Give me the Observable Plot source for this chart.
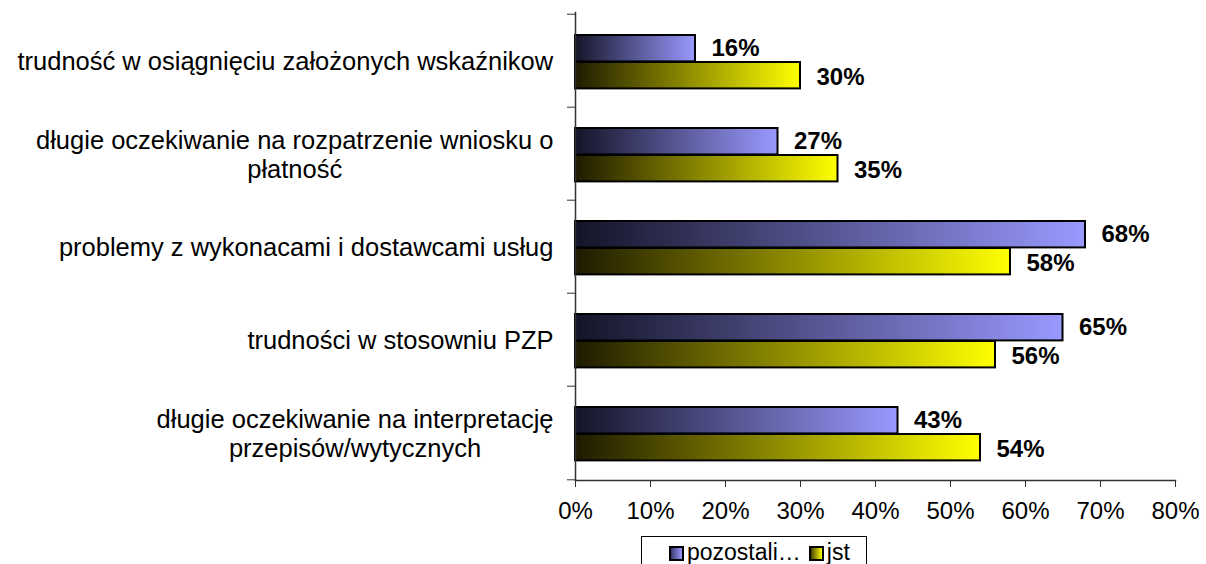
<!DOCTYPE html>
<html>
<head>
<meta charset="utf-8">
<script src="https://cdn.jsdelivr.net/npm/d3@7"></script>
<script src="https://cdn.jsdelivr.net/npm/@observablehq/plot@0.6"></script>
<style>
  html, body { margin: 0; padding: 0; background: #fff; }
  #wrap { position: relative; width: 1206px; height: 564px; overflow: hidden; font-family: "Liberation Sans", Arial, sans-serif; }
  #legend { position: absolute; left: 641px; top: 536px; width: 226px; height: 40px; border: 1px solid #000; box-sizing: border-box;
            display: flex; align-items: flex-start; padding-top: 3px; padding-left: 27px; font-size: 23px; line-height: 24px; color: #000; background: #fff; }
  .sw { display: inline-block; width: 11px; height: 11px; border: 2px solid #000; margin-right: 3px; margin-top: 6px; }
  .item { display: flex; align-items: flex-start; margin-right: 8px; }
</style>
</head>
<body>
<div id="wrap"><div id="chart"></div><div id="legend"></div></div>
<script>
const categories = [
  "trudność w osiągnięciu założonych wskaźnikow",
  "długie oczekiwanie na rozpatrzenie wniosku o\npłatność",
  "problemy z wykonacami i dostawcami usług",
  "trudności w stosowniu PZP",
  "długie oczekiwanie na interpretację\nprzepisów/wytycznych"
];
const seriesNames = ["pozostali…", "jst"];
const pozostali = [16, 27, 68, 65, 43];
const jst = [30, 35, 58, 56, 54];
const xTicks = [0, 10, 20, 30, 40, 50, 60, 70, 80];

const pozData = categories.map((c, i) => ({category: c, series: seriesNames[0], value: pozostali[i]}));
const jstData = categories.map((c, i) => ({category: c, series: seriesNames[1], value: jst[i]}));

const W = 1206, H = 536, mTop = 12, mBottom = 56, mLeft = 575, mRight = 31;
const band = (H - mTop - mBottom) / categories.length;
const barH = 27, groupTop = 21;

const font = '"Liberation Sans", Arial, Helvetica, sans-serif';

const chart = Plot.plot({
  width: W, height: H,
  marginTop: mTop, marginBottom: mBottom, marginLeft: mLeft, marginRight: mRight,
  style: {fontFamily: font, fontSize: "22px", color: "#000", background: "#fff", overflow: "visible"},
  x: {domain: [0, 80], label: null},
  y: {domain: categories, padding: 0, label: null},
  marks: [
    Plot.barX(pozData, {y: "category", x: "value", fill: "url(#gPoz)", stroke: "#000", strokeWidth: 2,
      insetTop: groupTop, insetBottom: band - groupTop - barH}),
    Plot.barX(jstData, {y: "category", x: "value", fill: "url(#gJst)", stroke: "#000", strokeWidth: 2,
      insetTop: groupTop + barH, insetBottom: band - groupTop - 2 * barH}),
    Plot.text(pozData, {y: "category", x: "value", text: d => d.value + "%", dx: 16, textAnchor: "start",
      dy: -band / 2 + groupTop + barH / 2, fontWeight: "bold", fontSize: 24}),
    Plot.text(jstData, {y: "category", x: "value", text: d => d.value + "%", dx: 16, textAnchor: "start",
      dy: -band / 2 + groupTop + barH * 1.5 + 2, fontWeight: "bold", fontSize: 24}),
    Plot.frame({anchor: "left", stroke: "#333", strokeWidth: 1.5}),
    Plot.frame({anchor: "bottom", stroke: "#333", strokeWidth: 1.5}),
    Plot.axisX({ticks: xTicks, tickFormat: d => d + "%", tickSize: 7, tickPadding: 14, fontSize: 24, stroke: "#333", label: null}),
    Plot.axisY({tickSize: 8, text: null, dy: -band / 2, stroke: "#333", label: null}),
    Plot.axisY({ticks: [categories[categories.length - 1]], tickSize: 8, text: null, dy: band / 2, stroke: "#333", label: null}),
    Plot.axisY({tickSize: 0, tickPadding: 22, fontSize: 25.5, label: null, lineHeight: 1.15})
  ]
});

document.getElementById("chart").appendChild(chart);

// gradients
d3.select(chart).insert("defs", ":first-child").html(`
  <linearGradient id="gPoz" x1="0" x2="1" y1="0" y2="0">
    <stop offset="0" stop-color="#141428"/>
    <stop offset="1" stop-color="#9999ff"/>
  </linearGradient>
  <linearGradient id="gJst" x1="0" x2="1" y1="0" y2="0">
    <stop offset="0" stop-color="#1e1a00"/>
    <stop offset="1" stop-color="#ffff00"/>
  </linearGradient>`);

// center multi-line category labels within their right-aligned block
d3.select(chart).selectAll('g[aria-label="y-axis tick label"] text').each(function() {
  const w = this.getBBox().width;
  this.setAttribute("text-anchor", "middle");
  this.style.textAnchor = "middle";
  const spans = this.querySelectorAll("tspan");
  if (spans.length) spans.forEach(s => s.setAttribute("x", -w / 2));
  else this.setAttribute("x", -w / 2);
});

// legend
const legend = document.getElementById("legend");
const legendFills = ["linear-gradient(to right, #3a3a70, #9999ff)", "linear-gradient(to right, #4a4500, #ffff00)"];
seriesNames.forEach((s, i) => {
  const item = document.createElement("span");
  item.className = "item";
  const sw = document.createElement("span");
  sw.className = "sw";
  sw.style.background = legendFills[i];
  item.appendChild(sw);
  item.appendChild(document.createTextNode(s));
  legend.appendChild(item);
});
</script>
</body>
</html>
